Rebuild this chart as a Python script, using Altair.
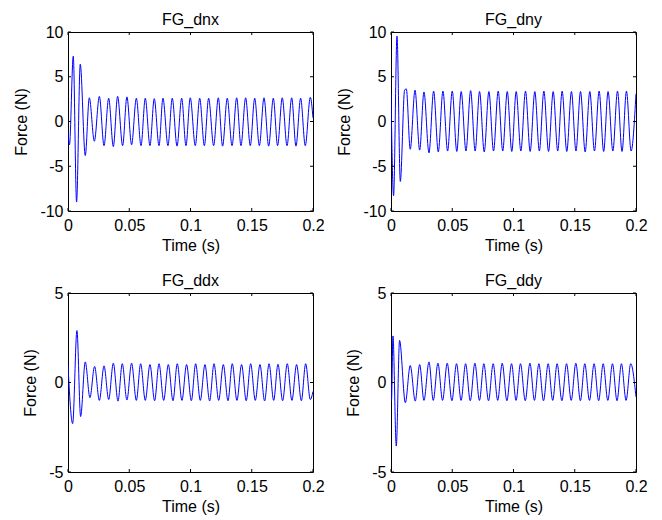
import altair as alt
import pandas as pd

# ---------------- data ----------------
# FG_dnx (top-left): turning points of the trace
t_dnx = [0.0, 0.0012, 0.0043, 0.0070, 0.0100, 0.0141, 0.0174, 0.0215, 0.0256, 0.0294,
         0.0332, 0.0370, 0.0405, 0.0446, 0.0481, 0.0519, 0.0558, 0.0596, 0.0631, 0.0669,
         0.0704, 0.0743, 0.0775, 0.0816, 0.0851, 0.0890, 0.0928, 0.0963, 0.0998, 0.1039,
         0.1075, 0.1113, 0.1148, 0.1189, 0.1227, 0.1262, 0.1300, 0.1339, 0.1377, 0.1412,
         0.1450, 0.1488, 0.1524, 0.1562, 0.1600, 0.1638, 0.1676, 0.1711, 0.1749, 0.1788,
         0.1826, 0.1861, 0.1899, 0.1937, 0.1978, 0.2000]
f_dnx = [-1.2, -2.6, 7.3, -9.0, 6.4, -3.8, 2.65, -2.2, 2.8, -2.7,
         2.6, -2.8, 2.8, -2.7, 2.75, -2.6, 2.6, -2.7, 2.6, -2.7,
         2.55, -2.7, 2.6, -2.7, 2.6, -2.75, 2.6, -2.7, 2.65, -2.7,
         2.6, -2.7, 2.6, -2.7, 2.65, -2.75, 2.6, -2.7, 2.65, -2.7,
         2.65, -2.7, 2.6, -2.7, 2.65, -2.75, 2.6, -2.7, 2.65, -2.7,
         2.65, -2.75, 2.6, -2.7, 2.7, 0.4]

# FG_dny (top-right)
t_dny = [0.0, 0.0021, 0.0049, 0.0076, 0.0111, 0.0125, 0.0157, 0.0196, 0.0234, 0.0269,
         0.0310, 0.0348, 0.0386, 0.0424, 0.0462, 0.0500, 0.0537, 0.0573, 0.0612, 0.0650,
         0.0687, 0.0723, 0.0761, 0.0799, 0.0837, 0.0875, 0.0912, 0.0949, 0.0986, 0.1022,
         0.1060, 0.1098, 0.1136, 0.1174, 0.1211, 0.1248, 0.1286, 0.1324, 0.1361, 0.1397,
         0.1435, 0.1473, 0.1510, 0.1547, 0.1585, 0.1623, 0.1661, 0.1699, 0.1736, 0.1772,
         0.1811, 0.1849, 0.1886, 0.1922, 0.1960, 0.2000]
f_dny = [3.1, -8.3, 9.55, -6.7, 3.5, 3.65, -3.1, 3.5, -3.2, 3.3,
         -3.5, 3.4, -3.4, 3.4, -3.3, 3.4, -3.35, 3.35, -3.3, 3.45,
         -3.3, 3.35, -3.4, 3.35, -3.3, 3.4, -3.3, 3.35, -3.35, 3.35,
         -3.3, 3.4, -3.35, 3.35, -3.3, 3.4, -3.35, 3.35, -3.3, 3.4,
         -3.35, 3.35, -3.3, 3.35, -3.4, 3.35, -3.3, 3.4, -3.35, 3.35,
         -3.3, 3.4, -3.35, 3.4, -3.3, 3.1]

# FG_ddx (bottom-left)
t_ddx = [0.0, 0.0038, 0.0073, 0.0103, 0.0141, 0.0179, 0.0217, 0.0256, 0.0294, 0.0332,
         0.0370, 0.0408, 0.0443, 0.0481, 0.0519, 0.0558, 0.0593, 0.0631, 0.0669, 0.0707,
         0.0743, 0.0781, 0.0819, 0.0857, 0.0892, 0.0930, 0.0968, 0.1007, 0.1042, 0.1080,
         0.1118, 0.1156, 0.1192, 0.1230, 0.1268, 0.1306, 0.1341, 0.1379, 0.1417, 0.1455,
         0.1491, 0.1529, 0.1567, 0.1605, 0.1641, 0.1679, 0.1714, 0.1752, 0.1790, 0.1828,
         0.1866, 0.1905, 0.1940, 0.1978, 0.2000]
f_ddx = [0.95, -2.3, 2.9, -1.9, 1.15, -0.85, 0.9, -1.0, 0.93, -0.95,
         1.08, -1.04, 1.05, -0.98, 1.08, -1.0, 1.05, -1.0, 1.0, -1.02,
         1.05, -1.0, 1.0, -1.02, 1.05, -1.0, 1.0, -1.02, 1.05, -1.0,
         1.0, -1.03, 1.05, -1.0, 1.0, -1.02, 1.05, -1.0, 1.0, -1.02,
         1.05, -1.0, 1.0, -1.03, 1.05, -1.0, 1.02, -1.02, 1.05, -1.0,
         1.0, -1.02, 1.05, -0.95, -0.5]

# FG_ddy (bottom-right)
t_ddy = [0.0, 0.0004, 0.0016, 0.0043, 0.0070, 0.0117, 0.0157, 0.0198, 0.0234, 0.0269,
         0.0310, 0.0345, 0.0383, 0.0421, 0.0459, 0.0497, 0.0535, 0.0572, 0.0609, 0.0647,
         0.0685, 0.0722, 0.0758, 0.0796, 0.0834, 0.0871, 0.0908, 0.0946, 0.0984, 0.1021,
         0.1057, 0.1096, 0.1134, 0.1171, 0.1207, 0.1245, 0.1283, 0.1320, 0.1356, 0.1395,
         0.1433, 0.1471, 0.1509, 0.1546, 0.1582, 0.1620, 0.1658, 0.1695, 0.1732, 0.1770,
         0.1808, 0.1845, 0.1881, 0.1919, 0.1957, 0.2000]
f_ddy = [0.0, -1.0, 2.6, -3.55, 2.35, -1.13, 0.95, -1.04, 1.0, -1.0,
         1.15, -1.0, 1.08, -1.0, 1.08, -1.02, 1.05, -1.0, 1.05, -1.02,
         1.08, -1.0, 1.05, -1.02, 1.05, -1.0, 1.08, -1.02, 1.05, -1.0,
         1.05, -1.02, 1.08, -1.0, 1.05, -1.02, 1.05, -1.0, 1.05, -1.02,
         1.05, -1.0, 1.08, -1.02, 1.05, -1.0, 1.05, -1.02, 1.05, -1.0,
         1.05, -1.02, 1.05, -1.0, 1.05, -0.8]

x_ticks = [0, 0.05, 0.1, 0.15, 0.2]
y_ticks_top = [-10, -5, 0, 5, 10]
y_ticks_bottom = [-5, 0, 5]
titles = ["FG_dnx", "FG_dny", "FG_ddx", "FG_ddy"]

# ---------------- chart ----------------
W, H = 245, 179
TL = 3
FONT = "Liberation Sans"
LABEL = "datum.value < 0 ? '-' + format(-datum.value, '~r') : format(datum.value, '~r')"


def panel(idx, t, f, ydom, yticks):
    df = pd.DataFrame({"t": t, "f": f})
    xs = alt.Scale(domain=[0, 0.2], nice=False, zero=False)
    ys = alt.Scale(domain=ydom, nice=False, zero=False)
    xax = alt.Axis(values=x_ticks, labelExpr=LABEL, title="Time (s)",
                   labelPadding=6, titlePadding=4)
    yax = alt.Axis(values=yticks, labelExpr=LABEL, title="Force (N)",
                   labelPadding=5, titlePadding=10)
    line = alt.Chart(df).mark_line(
        color="#0000ff", strokeWidth=1, interpolate="monotone", clip=True
    ).encode(
        x=alt.X("t:Q", scale=xs, axis=xax),
        y=alt.Y("f:Q", scale=ys, axis=yax),
    )
    xt = pd.DataFrame({"t": x_ticks})
    yt = pd.DataFrame({"f": yticks})
    rule = dict(color="black", strokeWidth=1)
    xb = alt.Chart(xt).mark_rule(**rule).encode(
        x=alt.X("t:Q", scale=xs, axis=xax), y=alt.value(H), y2=alt.value(H - TL))
    xtop = alt.Chart(xt).mark_rule(**rule).encode(
        x=alt.X("t:Q", scale=xs, axis=xax), y=alt.value(0), y2=alt.value(TL))
    yl = alt.Chart(yt).mark_rule(**rule).encode(
        y=alt.Y("f:Q", scale=ys, axis=yax), x=alt.value(0), x2=alt.value(TL))
    yr = alt.Chart(yt).mark_rule(**rule).encode(
        y=alt.Y("f:Q", scale=ys, axis=yax), x=alt.value(W), x2=alt.value(W - TL))
    return alt.layer(line, xb, xtop, yl, yr).properties(
        width=W, height=H,
        title=alt.TitleParams(titles[idx], fontSize=16, font=FONT,
                              fontWeight="normal", color="black",
                              frame="group", offset=-4),
    )


p1 = panel(0, t_dnx, f_dnx, [-10, 10], y_ticks_top)
p2 = panel(1, t_dny, f_dny, [-10, 10], y_ticks_top)
p3 = panel(2, t_ddx, f_ddx, [-5, 5], y_ticks_bottom)
p4 = panel(3, t_ddy, f_ddy, [-5, 5], y_ticks_bottom)

chart = alt.concat(
    p1, p2, p3, p4, columns=2, spacing={"row": 82, "column": 78}, bounds="flush"
).configure_view(
    stroke="black", strokeWidth=1
).configure_axis(
    grid=False, ticks=False, domain=False,
    labelFont=FONT, labelFontSize=16, labelColor="black",
    labelFlush=False, labelOverlap=False,
    titleFont=FONT, titleFontSize=16, titleFontWeight="normal", titleColor="black",
).properties(
    background="white",
    padding={"left": 5, "top": 3, "right": 5, "bottom": 5},
)

chart.save("out.html", embed_options={"renderer": "svg", "actions": False})
